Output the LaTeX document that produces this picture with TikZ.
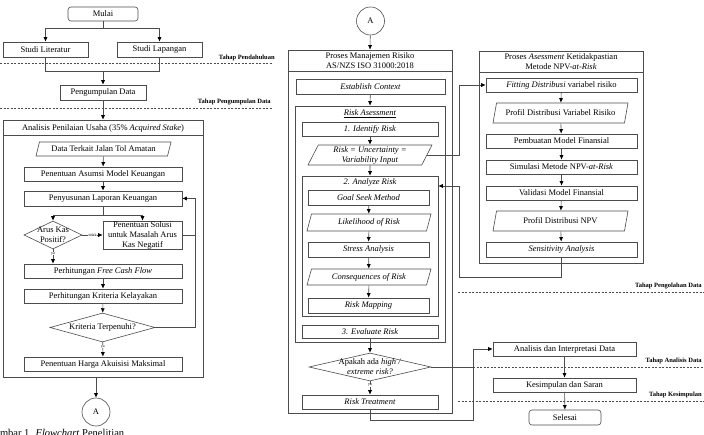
\documentclass[tikz,border=0pt]{standalone}
\usepackage{fontspec}
\setmainfont{Liberation Serif}
\usetikzlibrary{arrows.meta,shapes.geometric}

\begin{document}
\begin{tikzpicture}[x=1pt,y=-1pt,font=\fontsize{8.5}{10}\selectfont,
        line width=0.6pt,
        box/.style={draw=black!70,inner sep=0pt,align=center},
        term/.style={box,rounded corners=3pt},
        io/.style={box,trapezium,trapezium left angle=60,trapezium right angle=120,trapezium stretches body},
        decision/.style={draw=black!70,diamond,inner sep=0pt},
        conn/.style={draw=black!70,circle,minimum size=28,inner sep=0pt},
        frame/.style={draw=black!70,inner sep=0pt},
        wire/.style={draw=black!70},
        flow/.style={wire,-{Latex[length=4.5pt,width=4pt,color=black]}},
        tiny/.style={font=\fontsize{4}{4}\selectfont,fill=white,inner sep=0.3pt},
        phase/.style={font=\fontsize{6.5}{7}\selectfont\bfseries,anchor=south east,inner sep=0pt},
        phaseline/.style={draw=black!70,dash pattern=on 2pt off 1.5pt,line width=0.5pt}]

    \useasboundingbox (0,0) rectangle (704,435);

    % tahap penelitian
    \draw[phaseline] (0,63) -- (272,63);
    \draw[phaseline] (0,108) -- (272,108);
    \draw[phaseline] (458,292) -- (704,292);
    \draw[phaseline] (473,367) -- (704,367);
    \draw[phaseline] (458,401) -- (704,401);
    \node[phase] (tpendahuluan) at (275,61) {Tahap Pendahuluan};
    \node[phase] (tpengumpulan) at (271,105) {Tahap Pengumpulan Data};
    \node[phase] (tpengolahan) at (702,289) {Tahap Pengolahan Data};
    \node[phase] (tanalisis) at (702,364) {Tahap Analisis Data};
    \node[phase] (tkesimpulan) at (702,398) {Tahap Kesimpulan};

    % kolom kiri
    \node[term, minimum width=70, minimum height=14] (mulai) at (103,14) {Mulai};
    \node[box, minimum width=85, minimum height=15] (lit) at (45.5,49.5) {Studi Literatur};
    \node[box, minimum width=85, minimum height=15] (lap) at (159.5,49.5) {Studi Lapangan};
    \node[box, minimum width=86, minimum height=15] (kumpul) at (103,92.5) {Pengumpulan Data};

    \node[frame, minimum width=200, minimum height=257] (anl) at (103,248.5) {};
    \draw[wire] (3,135.5) -- (203,135.5);
    \node (anlhead) at (103,128) {Analisis Penilaian Usaha (35\% \textit{Acquired Stake})};
    \node[io, minimum width=135, minimum height=14] (data) at (103.5,149) {Data Terkait Jalan Tol Amatan};
    \node[box, minimum width=158, minimum height=14] (asumsi) at (103,174) {Penentuan Asumsi Model Keuangan};
    \node[box, minimum width=158, minimum height=15] (susun) at (103,198.5) {Penyusunan Laporan Keuangan};
    \node[decision, minimum width=58, minimum height=28,
        label={[align=center]center:Arus Kas\\Positif?}] (arus) at (53,235) {};
    \node[box, minimum width=79, minimum height=28] (solusi) at (142.5,235)
        {Penentuan Solusi\\untuk Masalah Arus\\Kas Negatif};
    \node[box, minimum width=158, minimum height=14] (fcf) at (103,271) {Perhitungan \textit{Free Cash Flow}};
    \node[box, minimum width=158, minimum height=14] (layak) at (103,296) {Perhitungan Kriteria Kelayakan};
    \node[decision, minimum width=105, minimum height=29,
        label={center:Kriteria Terpenuhi?}] (penuhi) at (102.5,327.5) {};
    \node[box, minimum width=158, minimum height=14] (harga) at (103,364) {Penentuan Harga Akuisisi Maksimal};
    \node[conn] (conA) at (96,412) {A};

    \coordinate (s1) at (103,28);
    \coordinate (j1) at (103,71);
    \coordinate (s2) at (103,215);
    \coordinate (fbk) at (195,198.5);
    \draw[wire] (mulai) -- (s1);
    \draw[flow] (s1) -| (lit);
    \draw[flow] (s1) -| (lap);
    \draw[wire] (lit) |- (j1);
    \draw[wire] (lap) |- (j1);
    \draw[flow] (j1) -- (kumpul);
    \draw[flow] (kumpul) -- (anl.north);
    \draw[flow] (data) -- (asumsi);
    \draw[flow] (asumsi) -- (susun);
    \draw[wire] (susun) -- (s2);
    \draw[flow] (s2) -| (arus);
    \draw[flow] (s2) -| (solusi);
    \draw[flow] (arus) -- node[tiny] {tidak} (solusi);
    \draw[flow] (arus.south) -- node[tiny, pos=0.3] {ya} (arus.south |- fcf.north);
    \draw[flow] (fcf) -- (layak);
    \draw[flow] (layak) -- (penuhi);
    \draw[flow] (penuhi) -- node[tiny, pos=0.3] {ya} (harga);
    \draw[wire] (solusi.east) -- (solusi.east -| fbk);
    \draw[flow] (penuhi.east) -| (fbk) -- (susun.east);
    \draw[flow] (anl.south -| conA) -- (conA);

    % kolom tengah
    \node[conn] (conB) at (370.5,21) {A};
    \node[frame, minimum width=164, minimum height=363] (mr) at (370,231.5) {};
    \draw[wire] (288,71) -- (452,71);
    \node[align=center] (mrhead) at (370,60.5) {Proses Manajemen Risiko\\AS/NZS ISO 31000:2018};
    \node[box, minimum width=149, minimum height=15] (ctx) at (370.5,86.5) {\textit{Establish Context}};
    \node[frame, minimum width=150, minimum height=236] (ra) at (370,224) {};
    \node (rahead) at (370,114) {\underline{\textit{Risk Asessment}}};
    \node[box, minimum width=136, minimum height=14] (ident) at (370,129) {\textit{1. Identify Risk}};
    \node[io, minimum width=124, minimum height=20] (rui) at (370,155)
        {\textit{Risk = Uncertainty =}\\\textit{Variability Input}};
    \node[frame, minimum width=136, minimum height=140] (ar) at (370,246) {};
    \node (arhead) at (370,182) {\textit{2. Analyze Risk}};
    \node[box, minimum width=121, minimum height=15] (goal) at (368.5,197.5) {\textit{Goal Seek Method}};
    \node[io, minimum width=124, minimum height=17] (like) at (369,222.5) {\textit{Likelihood of Risk}};
    \node[box, minimum width=121, minimum height=15] (stress) at (368.5,249.5) {\textit{Stress Analysis}};
    \node[io, minimum width=124, minimum height=16] (cons) at (369,277) {\textit{Consequences of Risk}};
    \node[box, minimum width=121, minimum height=15] (map) at (368.5,305.5) {\textit{Risk Mapping}};
    \node[box, minimum width=136, minimum height=13] (eval) at (370,331.5) {\textit{3. Evaluate Risk}};
    \node[decision, minimum width=122, minimum height=28,
        label={[align=center]center:Apakah ada \textit{high /}\\\textit{extreme risk?}}] (risk) at (370,367) {};
    \node[box, minimum width=136, minimum height=14] (treat) at (370,402) {\textit{Risk Treatment}};

    \draw[flow] (conB) -- (mr.north);
    \draw[flow] (ctx) -- (ra.north);
    \draw[flow] (ident) -- (rui);
    \draw[flow] (rui) -- (ar.north);
    \draw[flow] (goal) -- (like);
    \draw[flow] (like) -- (stress);
    \draw[flow] (stress) -- (cons);
    \draw[flow] (cons) -- (map);
    \draw[flow] (eval) -- (risk);
    \draw[flow] (risk) -- node[tiny, pos=0.3] {ya} (treat);

    % kolom kanan
    \node[frame, minimum width=164, minimum height=212] (npv) at (561,157) {};
    \draw[wire] (479,72) -- (643,72);
    \node[align=center] (npvhead) at (561,61.5) {Proses \textit{Asessment} Ketidakpastian\\Metode NPV-\textit{at-Risk}};
    \node[box, minimum width=151, minimum height=14] (fit) at (561.5,85) {\textit{Fitting Distribusi} variabel risiko};
    \node[io, minimum width=135, minimum height=20] (pvar) at (560.5,113) {Profil Distribusi Variabel Risiko};
    \node[box, minimum width=151, minimum height=14] (model) at (561.5,141) {Pembuatan Model Finansial};
    \node[box, minimum width=151, minimum height=14] (sim) at (561.5,167) {Simulasi Metode NPV-\textit{at-Risk}};
    \node[box, minimum width=151, minimum height=14] (valid) at (561.5,193) {Validasi Model Finansial};
    \node[io, minimum width=135, minimum height=20] (pnpv) at (560.5,221) {Profil Distribusi NPV};
    \node[box, minimum width=151, minimum height=15] (sens) at (561.5,249.5) {\textit{Sensitivity Analysis}};

    \node[box, minimum width=143, minimum height=14] (interp) at (564.5,349) {Analisis dan Interpretasi Data};
    \node[box, minimum width=143, minimum height=14] (saran) at (564.5,385) {Kesimpulan dan Saran};
    \node[term, minimum width=72, minimum height=15] (selesai) at (565,417.5) {Selesai};

    \draw[flow] (fit) -- (pvar);
    \draw[flow] (pvar) -- (model);
    \draw[flow] (model) -- (sim);
    \draw[flow] (sim) -- (valid);
    \draw[flow] (valid) -- (pnpv);
    \draw[flow] (pnpv) -- (sens);
    \draw[flow] (interp) -- (saran);
    \draw[flow] (saran) -- (selesai);

    \coordinate (fx) at (459,85);
    \coordinate (sx) at (459,277);
    \coordinate (ax) at (459,186);
    \coordinate (rt) at (473,420);
    \draw[flow] (rui.east) -| (fx) -- (fit.west);
    \draw[flow] (sens.south) |- (sx) -- (ax) -- (ax -| ar.east);
    \draw[flow] (treat.south) |- (rt) |- (interp.west);
    \draw[wire] (risk.east) -- (risk.east -| rt);

    \node[anchor=base west, inner sep=0pt, font=\fontsize{10.5}{12}\selectfont] (caption) at (-12.5,436.5) {Gambar 1. \textit{Flowchart} Penelitian};
\end{tikzpicture}
\end{document}
